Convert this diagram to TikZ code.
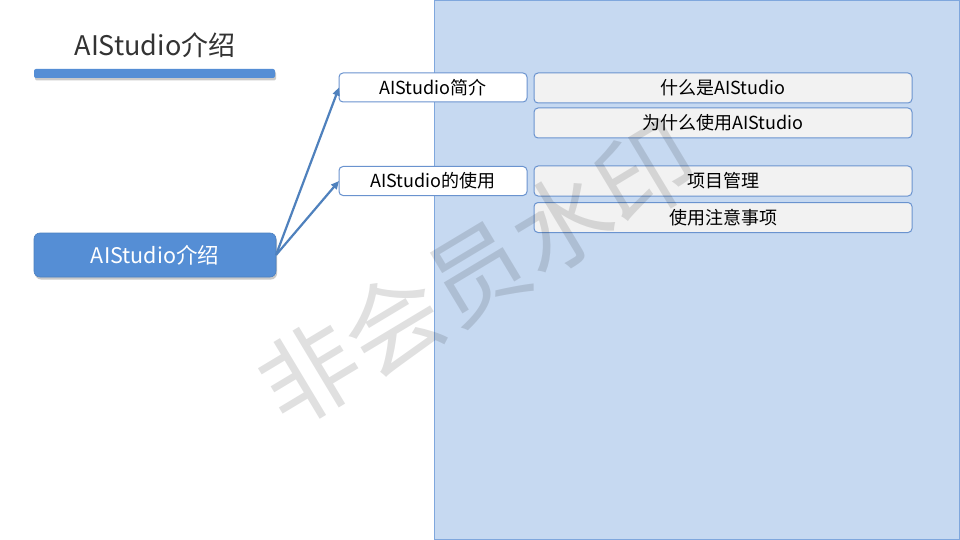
\documentclass[tikz,border=0pt]{standalone}
\usepackage{fontspec}
\setmainfont{Noto Sans CJK SC}
\usetikzlibrary{arrows.meta,shadows}
\definecolor{panelfill}{HTML}{C6D9F1}
\definecolor{panelline}{HTML}{7FA7DD}
\definecolor{mainblue}{HTML}{558ED5}
\definecolor{boxline}{HTML}{6A93CF}
\definecolor{arrowblue}{HTML}{4F81BD}
\definecolor{lightbox}{HTML}{F2F2F2}
\begin{document}
\begin{tikzpicture}[x=1pt,y=-1pt,
  every node/.style={inner sep=0pt,outer sep=0pt},
  midbox/.style={draw=boxline,line width=1pt,fill=white,rounded corners=4pt,
    minimum width=188pt,minimum height=29pt,font=\fontsize{18}{18}\selectfont},
  leafbox/.style={draw=boxline,line width=1pt,fill=lightbox,rounded corners=4pt,
    minimum width=378pt,minimum height=30pt,font=\fontsize{18}{18}\selectfont},
  link/.style={draw=arrowblue,line width=2.2pt,-{Triangle[length=8pt,width=7pt]}},
  softshadow/.style={drop shadow={shadow xshift=1pt,shadow yshift=-2.5pt,opacity=0.35,fill=black!60}}
]
\useasboundingbox (0,0) rectangle (960,540);
\fill[white] (0,0) rectangle (960,540);
% panel
\draw[fill=panelfill,draw=panelline,line width=1pt] (434.5,0.5) rectangle (959.5,539.5);
% title
\node[font=\fontsize{27}{27}\selectfont,text=black!80] (title) at (155,45) {AIStudio介绍};
\node[fill=mainblue,rounded corners=2pt,minimum width=241pt,minimum height=9pt,softshadow] (bar) at (154.5,73.5) {};
% main node
\node[fill=mainblue,draw=mainblue!90!black,line width=0.6pt,rounded corners=6pt,minimum width=242pt,minimum height=44pt,
  text=white,font=\fontsize{21.5}{21.5}\selectfont,softshadow] (main) at (155,255) {AIStudio介绍};
% middle boxes
\node[midbox] (mid1) at (433,87.5) {AIStudio简介};
\node[midbox] (mid2) at (433,181) {AIStudio的使用};
% leaf boxes
\node[leafbox] (leaf1) at (723,88) {什么是AIStudio};
\node[leafbox] (leaf2) at (723,123) {为什么使用AIStudio};
\node[leafbox] (leaf3) at (723,181) {项目管理};
\node[leafbox] (leaf4) at (723,217.5) {使用注意事项};
% arrows
\draw[link] (main.east) -- (mid1.west);
\draw[link] (main.east) -- (mid2.west);
% watermark
\node[rotate=31,font=\fontsize{98}{98}\selectfont,text=black,opacity=0.12] (wm) at (477,273) {非会员水印};
\end{tikzpicture}
\end{document}
